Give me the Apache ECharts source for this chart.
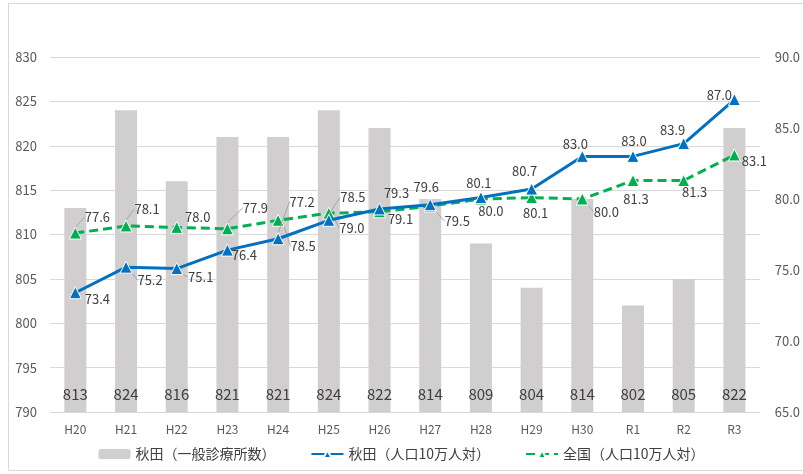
<!DOCTYPE html>
<html>
<head>
<meta charset="utf-8">
<script src="https://cdn.jsdelivr.net/npm/echarts@6/dist/echarts.min.js"></script>
<style>
  html, body { margin: 0; padding: 0; background: #fff; }
  #main { width: 803px; height: 474px; }
</style>
</head>
<body>
<div id="main"></div>
<script>
// 年度
var years = ['H20', 'H21', 'H22', 'H23', 'H24', 'H25', 'H26', 'H27', 'H28', 'H29', 'H30', 'R1', 'R2', 'R3'];
// 秋田（一般診療所数）
var clinics = [813, 824, 816, 821, 821, 824, 822, 814, 809, 804, 814, 802, 805, 822];
// 秋田（人口10万人対）
var akitaRate = [73.4, 75.2, 75.1, 76.4, 77.2, 78.5, 79.3, 79.6, 80.1, 80.7, 83.0, 83.0, 83.9, 87.0];
// 全国（人口10万人対）
var zenkokuRate = [77.6, 78.1, 78.0, 77.9, 78.5, 79.0, 79.1, 79.5, 80.0, 80.1, 80.0, 81.3, 81.3, 83.1];

// ラベルのずらし量（Excelで手動移動されたラベルの位置）
var akitaOffset = [[22, 6], [24, 13], [24, 8], [17, 5], [24, -37], [24, -23], [17, -16],
                   [-4, -18], [-2, -15], [-7, -18], [-7, -12], [1, -15], [-11, -14], [-15, -5]];
var zenkokuOffset = [[22, -16], [21, -17], [21, -10], [28, -21], [25, 26], [23, 15], [21, 7],
                     [27, 15], [10, 12], [4, 15], [24, 13], [3, 19], [11, 12], [20, 6]];

var FONT = '"Noto Sans CJK JP", "Noto Sans", sans-serif';
var myChart = echarts.init(document.getElementById('main'));

function layoutFn(offsets) {
    return function (p) {
        var o = offsets[p.dataIndex];
        return {
            x: p.rect.x + p.rect.width / 2 + o[0],
            y: p.rect.y + p.rect.height / 2 + o[1],
            align: 'center',
            verticalAlign: 'middle'
        };
    };
}

function pointData(values, offsets) {
    return values.map(function (v, i) {
        var o = offsets[i];
        var far = Math.sqrt(o[0] * o[0] + o[1] * o[1]) > 24;
        return { value: v, labelLine: { show: far } };
    });
}

var lineLabel = {
    show: true,
    fontSize: 13,
    fontFamily: FONT,
    color: '#404040',
    formatter: function (p) { return p.value.toFixed(1); }
};
var lineGuide = { show: true, lineStyle: { color: '#A6A6A6', width: 1 } };

myChart.setOption({
    animation: false,
    textStyle: { fontFamily: FONT },
    graphic: [{
        type: 'rect',
        shape: { x: 8.5, y: 3.5, width: 900, height: 467 },
        style: { fill: 'none', stroke: '#D9D9D9', lineWidth: 1 },
        silent: true
    }],
    grid: { left: 50, right: 42, top: 57, bottom: 62 },
    legend: {
        bottom: 8,
        left: 'center',
        itemWidth: 32,
        itemHeight: 10,
        itemGap: 35,
        textStyle: { fontSize: 14, color: '#404040', fontFamily: FONT },
        data: ['秋田（一般診療所数）', '秋田（人口10万人対）', '全国（人口10万人対）']
    },
    xAxis: {
        type: 'category',
        data: years,
        axisTick: { show: false },
        axisLine: { lineStyle: { color: '#D9D9D9' } },
        axisLabel: { color: '#595959', fontSize: 12, margin: 11, fontFamily: FONT }
    },
    yAxis: [{
        type: 'value',
        min: 790,
        max: 830,
        interval: 5,
        axisLine: { show: false },
        axisTick: { show: false },
        splitLine: { lineStyle: { color: '#D9D9D9' } },
        axisLabel: { color: '#595959', fontSize: 13, margin: 13, fontFamily: FONT }
    }, {
        type: 'value',
        min: 65,
        max: 90,
        interval: 5,
        axisLine: { show: false },
        axisTick: { show: false },
        splitLine: { show: false },
        axisLabel: {
            color: '#595959', fontSize: 13, margin: 15, fontFamily: FONT,
            formatter: function (v) { return v.toFixed(1); }
        }
    }],
    series: [{
        name: '秋田（一般診療所数）',
        type: 'bar',
        yAxisIndex: 0,
        barWidth: 22,
        itemStyle: { color: '#D0CECE' },
        label: {
            show: true,
            position: 'insideBottom',
            distance: 10,
            fontSize: 15,
            color: '#404040',
            fontFamily: FONT
        },
        data: clinics,
        z: 1
    }, {
        name: '秋田（人口10万人対）',
        type: 'line',
        yAxisIndex: 1,
        symbol: 'triangle',
        symbolSize: 12,
        lineStyle: { color: '#0070C0', width: 3 },
        itemStyle: { color: '#0070C0', borderColor: '#fff', borderWidth: 1 },
        label: lineLabel,
        labelLine: lineGuide,
        labelLayout: layoutFn(akitaOffset),
        data: pointData(akitaRate, akitaOffset),
        z: 3
    }, {
        name: '全国（人口10万人対）',
        type: 'line',
        yAxisIndex: 1,
        symbol: 'triangle',
        symbolSize: 12,
        lineStyle: { color: '#00B050', width: 3, type: [9, 5] },
        itemStyle: { color: '#00B050', borderColor: '#fff', borderWidth: 1 },
        label: lineLabel,
        labelLine: lineGuide,
        labelLayout: layoutFn(zenkokuOffset),
        data: pointData(zenkokuRate, zenkokuOffset),
        z: 2
    }]
});
</script>
</body>
</html>
